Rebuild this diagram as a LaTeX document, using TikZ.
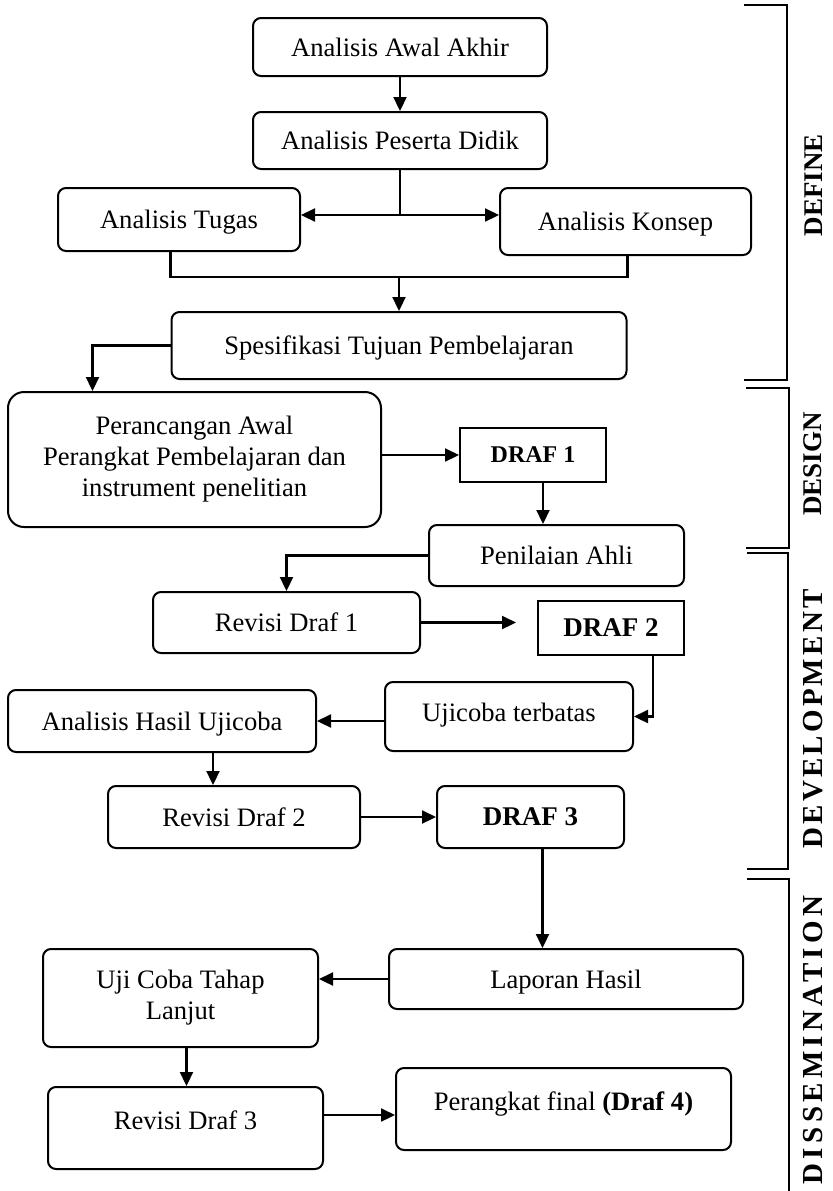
\documentclass[tikz,border=0pt]{standalone}
\usepackage{fontspec}
\setmainfont{Liberation Serif}
\usetikzlibrary{arrows.meta}
\tikzset{
  basebox/.style={draw, line width=1pt, rounded corners=4pt, align=center, inner sep=2pt, font=\fontsize{13.3}{15.5}\selectfont},
  box/.style={basebox, text height=9.5pt, text depth=0.3pt},
  draf/.style={draw, line width=1pt, align=center, inner sep=2pt, font=\fontsize{13.5}{15.5}\selectfont\bfseries},
  arrow/.style={line width=1.1pt, -{Triangle[length=7pt,width=6.5pt]}},
  dblarrow/.style={line width=1.1pt, {Triangle[length=7pt,width=6.5pt]}-{Triangle[length=7pt,width=6.5pt]}},
  link/.style={line width=1.1pt},
  bracket/.style={line width=0.8pt},
  phase/.style={rotate=90, font=\fontsize{13.5}{15}\selectfont\bfseries}
}

\begin{document}
\begin{tikzpicture}[x=0.5pt, y=-0.5pt]
        \useasboundingbox (0,0) rectangle (832,1191);

        % Define stage
        \node[box, minimum width=147pt, minimum height=29pt] (awal) at (400,47) {Analisis Awal Akhir};
        \node[box, minimum width=147pt, minimum height=28.5pt] (peserta) at (400,140.5) {Analisis Peserta Didik};
        \node[box, minimum width=121pt, minimum height=31.5pt] (tugas) at (179,219.5) {Analisis Tugas};
        \node[box, minimum width=125.5pt, minimum height=33.5pt] (konsep) at (625.5,221.5) {Analisis Konsep};
        \node[box, minimum width=227.5pt, minimum height=33.5pt] (spes) at (399,345.5) {Spesifikasi Tujuan Pembelajaran};

        % Design stage
        \node[basebox, rounded corners=8pt, minimum width=186.5pt, minimum height=67.5pt] (peran) at (194.5,459.5) {Perancangan Awal\\Perangkat Pembelajaran dan\\instrument penelitian};
        \node[draf, font=\fontsize{12}{14}\selectfont\bfseries, minimum width=73pt, minimum height=27pt] (draf1) at (533,455) {DRAF 1};

        % Development stage
        \node[box, minimum width=127.5pt, minimum height=30.5pt] (penil) at (556.5,555.5) {Penilaian Ahli};
        \node[box, minimum width=133.5pt, minimum height=30.5pt] (revisi1) at (286.5,622.5) {Revisi Draf 1};
        \node[draf, minimum width=73pt, minimum height=27pt] (draf2) at (611,628) {DRAF 2};
        \node[box, text depth=4.8pt, minimum width=124pt, minimum height=34.5pt] (ujicoba) at (509,716.5) {Ujicoba terbatas};
        \node[box, minimum width=154pt, minimum height=31pt] (ahu) at (162,721) {Analisis Hasil Ujicoba};
        \node[box, minimum width=126pt, minimum height=31pt] (revisi2) at (234,817) {Revisi Draf 2};
        \node[draf, rounded corners=4pt, minimum width=93.5pt, minimum height=31pt] (draf3) at (530.5,817) {DRAF 3};

        % Dissemination stage
        \node[box, minimum width=177pt, minimum height=30pt] (lap) at (566,979) {Laporan Hasil};
        \node[basebox, minimum width=137.5pt, minimum height=49pt] (uctl) at (180.5,998) {Uji Coba Tahap\\Lanjut};
        \node[box, text depth=8.3pt, minimum width=137.5pt, minimum height=41pt] (rev3) at (185.5,1128) {Revisi Draf 3};
        \node[box, text depth=8.3pt, minimum width=167.5pt, minimum height=41pt] (final) at (563.5,1109) {Perangkat final \textbf{(Draf 4)}};

        % Draw the arrows of the define stage
        \draw[arrow] (awal) -- (peserta);
        \coordinate (split) at (400,215);
        \draw[link] (peserta) -- (split);
        \draw[dblarrow] (split -| tugas.east) -- (split -| konsep.west);
        \coordinate (join) at (399,277);
        \draw[link] (tugas.south -| spes.west) -- (join -| spes.west) -- (join -| spes.east) -- (konsep.south -| spes.east);
        \draw[arrow] (join) -- (spes);

        % Draw the arrows of the design stage
        \coordinate (s1) at ([xshift=-51pt]peran.north);
        \draw[arrow] (spes.west) -| (s1);
        \draw[arrow] (peran.east |- draf1) -- (draf1);
        \coordinate (d1out) at ([xshift=5pt]draf1.south);
        \draw[arrow] (d1out) -- (d1out |- penil.north);

        % Draw the arrows of the development stage
        \draw[arrow] (penil.west) -| (revisi1);
        \draw[arrow, shorten >=10.5pt] (revisi1.east) -- (revisi1.east -| draf2.west);
        \coordinate (d2out) at ([xshift=21pt]draf2.south);
        \draw[arrow] (d2out) |- (ujicoba.east);
        \draw[arrow] (ujicoba.west |- ahu) -- (ahu.east);
        \coordinate (ahout) at ([xshift=25.5pt]ahu.south);
        \draw[arrow] (ahout) -- (ahout |- revisi2.north);
        \draw[arrow] (revisi2) -- (draf3);

        % Draw the arrows of the dissemination stage
        \coordinate (d3out) at ([xshift=6pt]draf3.south);
        \draw[arrow] (d3out) -- (d3out |- lap.north);
        \draw[arrow] (lap.west) -- (lap.west -| uctl.east);
        \coordinate (uout) at ([xshift=3pt]uctl.south);
        \draw[arrow] (uout) -- (uout |- rev3.north);
        \coordinate (r3out) at ([yshift=6.5pt]rev3.east);
        \draw[arrow] (r3out) -- (r3out -| final.west);

        % Brackets and stage labels
        \draw[bracket] (744,5) -- (787,5) -- (787,380) -- (744,380);
        \draw[bracket] (746,388) -- (789,388) -- (789,548) -- (746,548);
        \draw[bracket] (747,553) -- (788,553) -- (788,869) -- (747,869);
        \draw[bracket] (747,879) -- (789,879) -- (789,1191);
        \node[phase] (define) at (814,185) {DEFINE};
        \node[phase] (design) at (813,464) {DESIGN};
        \node[phase, font=\fontsize{14.5}{16}\selectfont\bfseries\addfontfeature{LetterSpace=11}] (develop) at (813,719) {DEVELOPMENT};
        \node[phase, font=\fontsize{14.5}{16}\selectfont\bfseries\addfontfeature{LetterSpace=15}] (dissem) at (813,1040) {DISSEMINATION};
\end{tikzpicture}
\end{document}
